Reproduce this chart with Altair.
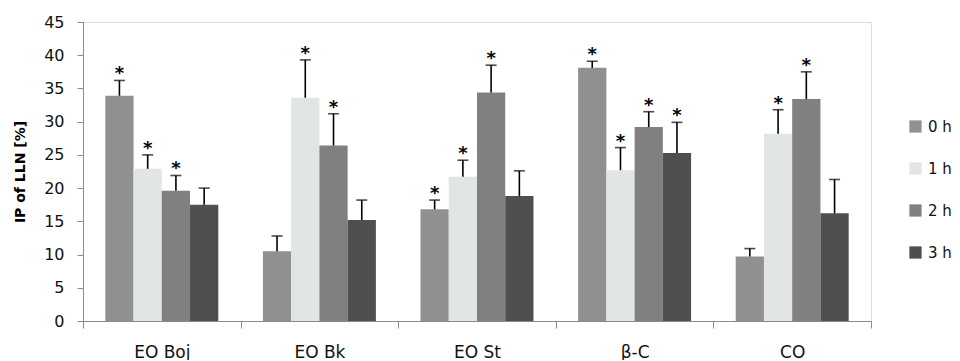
import altair as alt
import pandas as pd

groups = ["EO Boj", "EO Bk", "EO St", "β-C", "CO"]
times = ["0 h", "1 h", "2 h", "3 h"]

mean_0h = [33.9, 10.5, 16.8, 38.1, 9.7]
mean_1h = [22.9, 33.6, 21.7, 22.7, 28.2]
mean_2h = [19.6, 26.4, 34.4, 29.2, 33.4]
mean_3h = [17.5, 15.2, 18.8, 25.3, 16.2]

sd_0h = [2.3, 2.3, 1.4, 1.0, 1.2]
sd_1h = [2.1, 5.7, 2.5, 3.4, 3.6]
sd_2h = [2.3, 4.8, 4.1, 2.3, 4.1]
sd_3h = [2.5, 3.0, 3.8, 4.6, 5.1]

sig_0h = [1, 0, 1, 1, 0]
sig_1h = [1, 1, 1, 1, 1]
sig_2h = [1, 1, 1, 1, 1]
sig_3h = [0, 0, 0, 1, 0]

y_ticks = [0, 5, 10, 15, 20, 25, 30, 35, 40, 45]

colors = ["#909090", "#e2e5e5", "#808080", "#4f4f4f"]

means = [mean_0h, mean_1h, mean_2h, mean_3h]
sds = [sd_0h, sd_1h, sd_2h, sd_3h]
sigs = [sig_0h, sig_1h, sig_2h, sig_3h]

rows = []
for gi, g in enumerate(groups):
    for ti, t in enumerate(times):
        m = means[ti][gi]
        s = sds[ti][gi]
        rows.append({"group": g, "time": t, "mean": m, "top": m + s, "sig": sigs[ti][gi]})
df = pd.DataFrame(rows)

FONT = "DejaVu Sans"

x = alt.X(
    "group:N",
    sort=groups,
    scale=alt.Scale(paddingInner=0, paddingOuter=0),
    axis=alt.Axis(
        title=None, labelAngle=0, tickBand="extent", tickSize=7,
        labelPadding=16, labelFontSize=17, labelColor="#111",
        domainColor="#8a8a8a", tickColor="#8a8a8a", labelFont=FONT,
    ),
)
xo = alt.XOffset("time:N", sort=times, scale=alt.Scale(paddingInner=0, paddingOuter=0.79))
yscale = alt.Scale(domain=[0, 45], nice=False)
yaxis = alt.Axis(
    values=y_ticks, title="IP of LLN [%]", grid=False, labelOverlap=False,
    tickSize=6, labelPadding=13, labelFontSize=16, labelColor="#111",
    domainColor="#8a8a8a", tickColor="#8a8a8a", titleFontSize=14,
    titleFontWeight="bold", titlePadding=16, titleColor="#000",
    labelFont=FONT, titleFont=FONT,
)

base = alt.Chart(df)

bars = base.mark_bar().encode(
    x=x,
    xOffset=xo,
    y=alt.Y("mean:Q", scale=yscale, axis=yaxis, title="IP of LLN [%]"),
    color=alt.Color(
        "time:N",
        sort=times,
        scale=alt.Scale(domain=times, range=colors),
        legend=alt.Legend(
            title=None, orient="none", legendX=825, legendY=97,
            symbolType="square", symbolSize=150, symbolStrokeWidth=0,
            labelFontSize=15, labelFont=FONT, rowPadding=26, labelColor="#111",
            labelOffset=5,
        ),
    ),
)

rules = base.mark_rule(color="black", strokeWidth=1.6).encode(
    x=x, xOffset=xo, y=alt.Y("mean:Q", scale=yscale, axis=yaxis, title="IP of LLN [%]"), y2="top:Q"
)
caps = base.mark_tick(color="black", thickness=1.6, size=11, orient="horizontal").encode(
    x=x, xOffset=xo, y=alt.Y("top:Q", scale=yscale, axis=yaxis, title="IP of LLN [%]")
)
stars = base.transform_filter("datum.sig == 1").mark_text(
    text="*", fontSize=18, fontWeight="bold", baseline="alphabetic", dy=-1,
    color="black", font=FONT,
).encode(x=x, xOffset=xo, y=alt.Y("top:Q", scale=yscale, axis=yaxis, title="IP of LLN [%]"))

chart = (
    alt.layer(bars, rules, caps, stars)
    .properties(width=788, height=299, padding={"left": 5, "top": 6, "right": 0, "bottom": 0})
    .configure_view(strokeWidth=0, stroke="transparent")
    .configure(font=FONT)
)

chart.save("out.html", embed_options={"renderer": "svg", "actions": False})
